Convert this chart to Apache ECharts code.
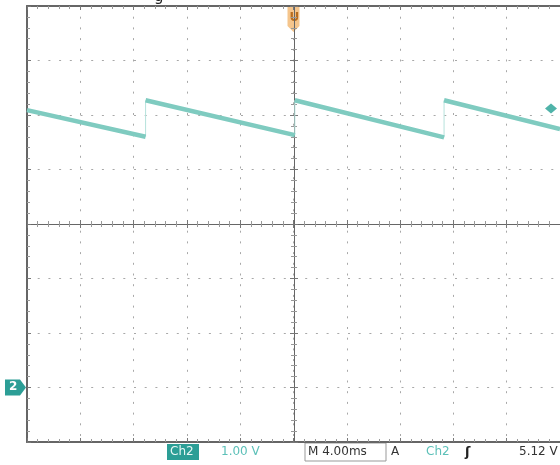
<!DOCTYPE html>
<html>
<head>
<meta charset="utf-8">
<script src="https://cdn.jsdelivr.net/npm/echarts@6/dist/echarts.min.js"></script>
<style>
  html, body { margin: 0; padding: 0; background: #fff; }
  #scope { width: 560px; height: 465px; }
</style>
</head>
<body>
<div id="scope"></div>
<script>
// sawtooth on Ch2, 1.00 V/div, 4.00 ms/div
var segStart = [0, 8.9, 20.1, 31.3];   // ms
var segEnd   = [8.9, 20.1, 31.3, 40];  // ms
var vHigh    = [5.09, 5.27, 5.27, 5.27]; // V
var vLow     = [4.60, 4.63, 4.59, 4.74]; // V
var trigLevel = 5.12;
var trigTime = 20;
var groundLevel = 0;

var ramp = [], edges = [];
for (var i = 0; i < segStart.length; i++) {
	ramp.push([segStart[i], vHigh[i]], [segEnd[i], vLow[i]], '-');
	if (i > 0) edges.push([segStart[i], vLow[i - 1]], [segStart[i], vHigh[i]], '-');
}

var dots = { color: '#a8a8a8', width: 1, type: [2, 8.7] };
function hAxis(pos, offset, inside, line, split) {
	return {
		type: 'value', position: pos, offset: offset, min: 0, max: 40, interval: 4,
		axisLine: { show: line, onZero: false, lineStyle: { color: '#666', width: offset == 0 ? 2 : 1 } },
		axisTick: { show: true, inside: inside, length: 4, lineStyle: { color: '#777' } },
		minorTick: { show: true, splitNumber: 5, length: 3, lineStyle: { color: '#999' } },
		axisLabel: { show: false },
		splitLine: { show: split, lineStyle: dots }
	};
}
function vAxis(offset, inside, line, split) {
	return {
		type: 'value', position: 'left', offset: offset, min: -1, max: 7, interval: 1,
		axisLine: { show: line, onZero: false, lineStyle: { color: '#666', width: offset == 0 ? 2 : 1 } },
		axisTick: { show: true, inside: inside, length: 4, lineStyle: { color: '#777' } },
		minorTick: { show: true, splitNumber: 5, length: 3, lineStyle: { color: '#999' } },
		axisLabel: { show: false },
		splitLine: { show: split, lineStyle: dots }
	};
}

var myChart = echarts.init(document.getElementById('scope'));
var option = {
	animation: false,
	grid: { left: 27, top: 6, width: 534, height: 436 },
	xAxis: [
		hAxis('bottom', 0, true, true, true),
		hAxis('top', 0, true, true, false),
		hAxis('bottom', -218, true, true, false),
		hAxis('bottom', -218, false, false, false)
	],
	yAxis: [
		vAxis(0, true, true, true),
		vAxis(-267, true, true, false),
		vAxis(-267, false, false, false)
	],
	series: [{
		type: 'line', data: ramp, showSymbol: false, connectNulls: false,
		lineStyle: { color: '#7fcbc0', width: 4.5 }, z: 5
	}, {
		type: 'line', data: edges, showSymbol: false, connectNulls: false,
		lineStyle: { color: '#b6e2dc', width: 1 }, z: 4
	}]
};
myChart.setOption(option);

var gnd = myChart.convertToPixel({ xAxisIndex: 0, yAxisIndex: 0 }, [0, groundLevel]);
var trg = myChart.convertToPixel({ xAxisIndex: 0, yAxisIndex: 0 }, [trigTime, trigLevel]);
myChart.setOption({
	graphic: [
		{ type: 'text', left: 154, top: -10, style: { text: 'g', font: '15px "DejaVu Sans"', fill: '#222' } },
		// ground marker
		{ type: 'polygon', shape: { points: [[5, gnd[1] - 8], [20, gnd[1] - 8], [26, gnd[1]], [20, gnd[1] + 8], [5, gnd[1] + 8]] },
			style: { fill: '#2c9e96' } },
		{ type: 'text', x: 9, y: gnd[1] - 7, style: { text: '2', fill: '#fff', font: 'bold 12px "DejaVu Sans"' } },
		// trigger position
		{ type: 'polygon', shape: { points: [[trg[0] - 6, 5], [trg[0] + 6, 5], [trg[0] + 6, 26], [trg[0], 32], [trg[0] - 6, 26]] },
			style: { fill: '#f4bf80', opacity: 0.9 } },
		{ type: 'text', x: trg[0] - 4, y: 12, style: { text: 'U', fill: '#b86d1e', font: 'bold 12px "DejaVu Sans"' } },
		// trigger level
		{ type: 'polygon', shape: { points: [[545, trg[1]], [551, trg[1] - 5], [557, trg[1]], [551, trg[1] + 5]] },
			style: { fill: '#4fb3a9' } },
		// readout line
		{ type: 'rect', shape: { x: 167, y: 444, width: 32, height: 16 }, style: { fill: '#2c9e96' } },
		{ type: 'text', x: 170, y: 446, style: { text: 'Ch2', fill: '#e8f7f5', font: '12px "DejaVu Sans"' } },
		{ type: 'text', x: 221, y: 446, style: { text: '1.00 V', fill: '#5cc0b8', font: '12px "DejaVu Sans"' } },
		{ type: 'rect', shape: { x: 305, y: 443, width: 81, height: 18 }, style: { fill: '#fff', stroke: '#999', lineWidth: 1 } },
		{ type: 'text', x: 308, y: 446, style: { text: 'M 4.00ms', fill: '#333', font: '12px "DejaVu Sans"' } },
		{ type: 'text', x: 391, y: 446, style: { text: 'A', fill: '#333', font: '12px "DejaVu Sans"' } },
		{ type: 'text', x: 426, y: 446, style: { text: 'Ch2', fill: '#5cc0b8', font: '12px "DejaVu Sans"' } },
		{ type: 'text', x: 465, y: 446, style: { text: '\u0283', fill: '#222', font: 'bold 13px "DejaVu Sans"' } },
		{ type: 'text', x: 519, y: 446, style: { text: '5.12 V', fill: '#333', font: '12px "DejaVu Sans"' } }
	]
});
</script>
</body>
</html>
